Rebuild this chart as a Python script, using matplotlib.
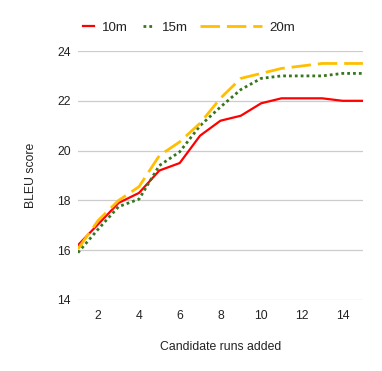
import matplotlib
matplotlib.use("Agg")
from matplotlib import pyplot as plt
from matplotlib.legend import Legend

plt.rcParams['font.family'] = ['Liberation Sans', 'DejaVu Sans']

runs = list(range(1, 16))
bleu_10m = [16.2, 17.05, 17.9, 18.3, 19.2, 19.5, 20.6, 21.2, 21.4, 21.9, 22.1, 22.1, 22.1, 22.0, 22.0]
bleu_15m = [15.9, 16.85, 17.75, 18.05, 19.4, 19.95, 21.0, 21.75, 22.45, 22.9, 23.0, 23.0, 23.0, 23.1, 23.1]
bleu_20m = [16.05, 17.2, 18.0, 18.55, 19.8, 20.35, 21.1, 22.1, 22.9, 23.1, 23.3, 23.4, 23.5, 23.5, 23.5]

fs = 8.8
txt = '#222222'

fig = plt.figure(figsize=(3.82, 3.71), dpi=100)
ax = fig.add_axes([0.204, 0.1914, 0.746, 0.6711])

l10, = ax.plot(runs, bleu_10m, color='#ff0000', linewidth=1.6, label='10m')
l15, = ax.plot(runs, bleu_15m, color='#38761d', linewidth=2.0, linestyle=(0, (1, 1.1)),
               dash_capstyle='butt', label='15m')
l20, = ax.plot(runs, bleu_20m, color='#ffbf00', linewidth=2.0, linestyle=(0, (7, 2.5)),
               dash_capstyle='butt', label='20m')

ax.set_xlim(1, 15)
ax.set_ylim(14, 24)
ax.set_xticks([2, 4, 6, 8, 10, 12, 14])
ax.set_yticks([14, 16, 18, 20, 22, 24])
ax.grid(axis='y', color='#cccccc', linewidth=0.9)
ax.set_axisbelow(True)
for s in ax.spines.values():
    s.set_visible(False)
ax.tick_params(axis='y', length=0, labelsize=fs, colors=txt, pad=5)
ax.tick_params(axis='x', length=0, labelsize=fs, colors=txt, pad=7)
ax.set_xlabel('Candidate runs added', fontsize=fs, color=txt, labelpad=14)
ax.set_ylabel('BLEU score', fontsize=fs, color=txt, labelpad=15)

# one legend per series so each handle can have its own length
legend_items = [(l10, 0.0175, 0.85), (l15, 0.228, 0.85), (l20, 0.43, 4.6)]
for line, xpos, hl in legend_items:
    leg = Legend(ax, [line], [line.get_label()], loc='center left',
                 bbox_to_anchor=(xpos, 1.094), frameon=False, fontsize=9.6,
                 handlelength=hl, handletextpad=0.55, borderpad=0,
                 borderaxespad=0, labelcolor=txt)
    ax.add_artist(leg)

fig.savefig('out.png', dpi=100)
